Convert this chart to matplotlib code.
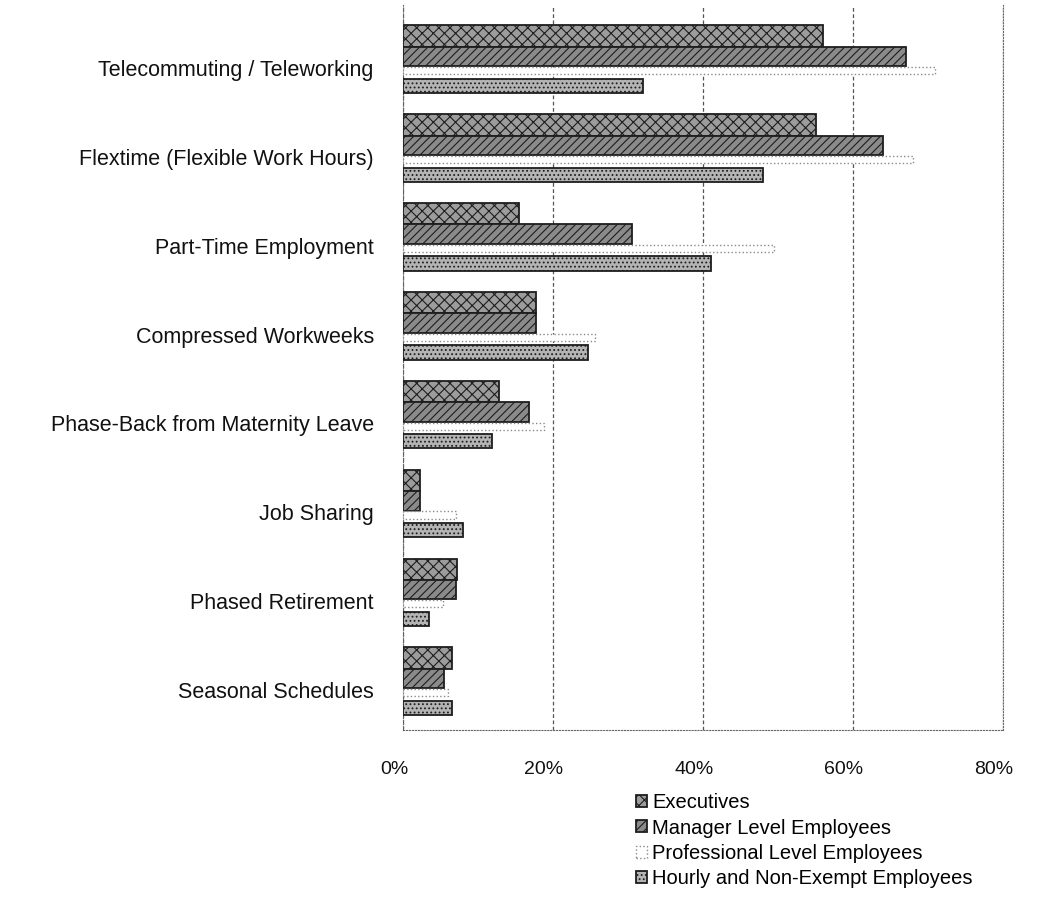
import matplotlib
matplotlib.use("Agg")
import matplotlib.pyplot as plt
import matplotlib.transforms as mtransforms
import numpy as np

plt.rcParams['font.family'] = ['Liberation Sans', 'DejaVu Sans']
plt.rcParams['hatch.linewidth'] = 0.8

categories = [
    "Telecommuting / Teleworking",
    "Flextime (Flexible Work Hours)",
    "Part-Time Employment",
    "Compressed Workweeks",
    "Phase-Back from Maternity Leave",
    "Job Sharing",
    "Phased Retirement",
    "Seasonal Schedules",
]
series = [
    "Executives",
    "Manager Level Employees",
    "Professional Level Employees",
    "Hourly and Non-Exempt Employees",
]
executives = [56, 55, 15.5, 17.7, 12.8, 2.2, 7.2, 6.5]
managers = [67, 64, 30.5, 17.7, 16.8, 2.2, 7.0, 5.5]
professionals = [71, 68, 49.5, 25.6, 18.8, 7.0, 5.3, 6.0]
hourly = [32, 48, 41, 24.6, 11.8, 8.0, 3.4, 6.5]
xticks = [0, 20, 40, 60, 80]

W, H = 1057, 922
fig = plt.figure(figsize=(W / 100, H / 100), dpi=100)
ax = fig.add_axes([403 / W, 1 - 730 / H, 600 / W, 725 / H])

y = np.arange(len(categories))
# per-series vertical offset and thickness inside a category
offsets = [-0.36, -0.13, 0.03, 0.2]
heights = [0.24, 0.22, 0.08, 0.16]
styles = [
    dict(facecolor='#9c9c9c', edgecolor='#1e1e1e', hatch='xxx', linewidth=1.3),
    dict(facecolor='#8a8a8a', edgecolor='#1e1e1e', hatch='////', linewidth=1.3),
    dict(facecolor='white', edgecolor='#8a8a8a', linestyle=':', linewidth=1.0),
    dict(facecolor='#b4b4b4', edgecolor='#1e1e1e', hatch='....', linewidth=1.3),
]
values = [executives, managers, professionals, hourly]
for vals, off, hgt, st, name in zip(values, offsets, heights, styles, series):
    ax.barh(y + off, vals, height=hgt, label=name, zorder=3, **st)

ax.set_xlim(0, 80)
ax.set_ylim(7.45, -0.71)
ax.set_yticks(y)
ax.set_yticklabels(categories, fontsize=15.5, color='#111111')
ax.set_xticks(xticks)
ax.set_xticklabels([f"{t}%" for t in xticks], fontsize=14, color='#111111')
ax.tick_params(axis='y', length=0, pad=21)
ax.tick_params(axis='x', length=0, pad=22)
shift = mtransforms.ScaledTranslation(-0.09, 0, fig.dpi_scale_trans)
for lab in ax.get_xticklabels():
    lab.set_transform(lab.get_transform() + shift)

ax.grid(axis='x', color='#555555', linestyle=(0, (3, 2)), linewidth=0.9, zorder=0)
ax.spines['top'].set_visible(False)
for side in ['left', 'right', 'bottom']:
    ax.spines[side].set_linestyle(':')
    ax.spines[side].set_color('#666666')

fig.legend(loc='upper left', bbox_to_anchor=(628 / W, 1 - 785 / H),
           frameon=False, fontsize=14.5, handlelength=0.55, handleheight=0.55,
           handletextpad=0.25, labelspacing=0.32, borderaxespad=0)

fig.savefig("out.png", dpi=100)
